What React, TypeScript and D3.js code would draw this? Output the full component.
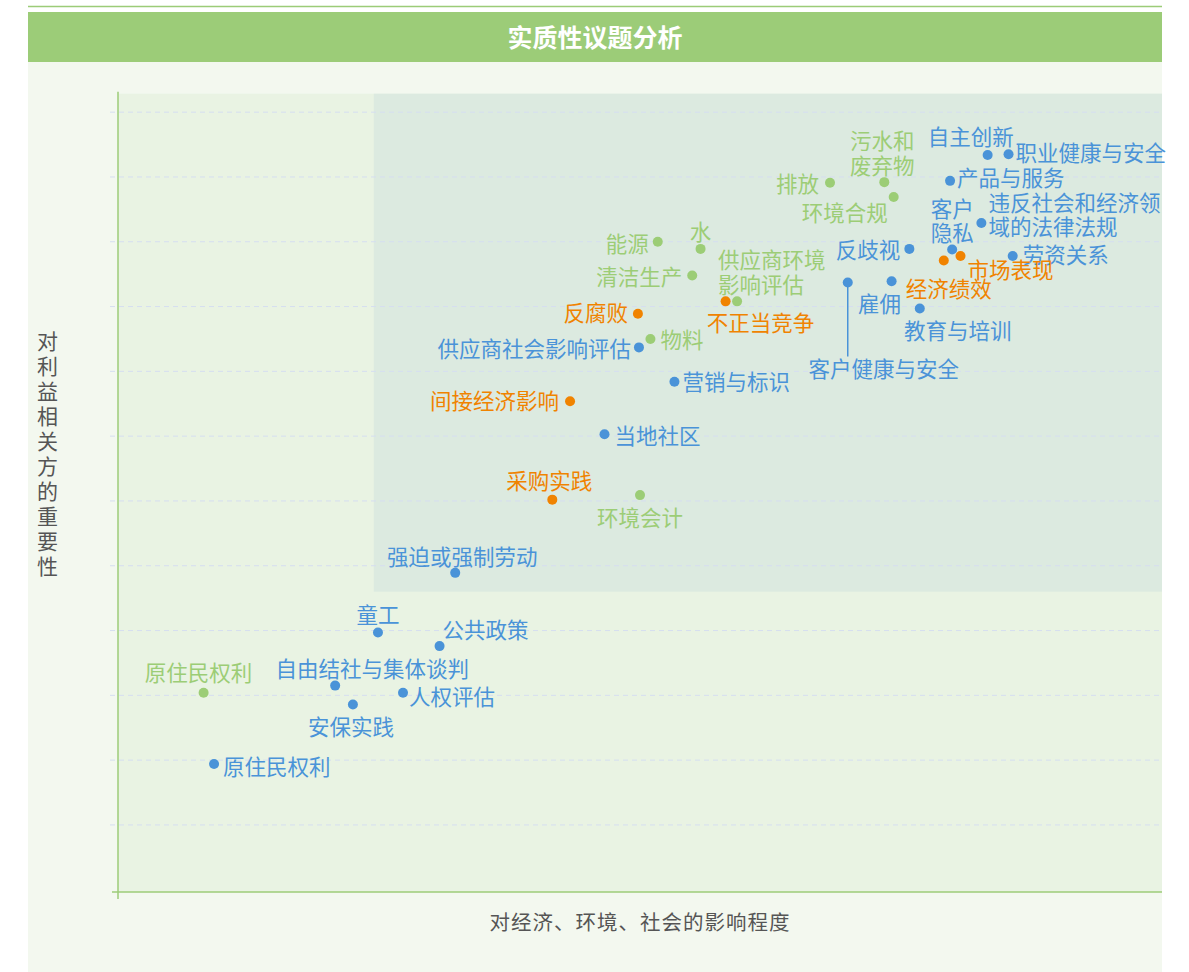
import React, { useEffect, useRef } from "react";
import * as d3 from "d3";

// 经济 (orange)
const economicIssues = [
  { name: "经济绩效", x: 7.91, y: 9.71 },
  { name: "市场表现", x: 8.07, y: 9.78 },
  { name: "不正当竞争", x: 5.82, y: 9.08 },
  { name: "反腐败", x: 4.98, y: 8.89 },
  { name: "间接经济影响", x: 4.33, y: 7.54 },
  { name: "采购实践", x: 4.16, y: 6.02 },
];

// 环境 (green)
const environmentIssues = [
  { name: "排放", x: 6.82, y: 10.91 },
  { name: "污水和\n废弃物", x: 7.34, y: 10.92 },
  { name: "环境合规", x: 7.43, y: 10.69 },
  { name: "能源", x: 5.17, y: 10.0 },
  { name: "水", x: 5.58, y: 9.89 },
  { name: "清洁生产", x: 5.5, y: 9.48 },
  { name: "供应商环境\n影响评估", x: 5.93, y: 9.08 },
  { name: "物料", x: 5.1, y: 8.5 },
  { name: "环境会计", x: 5.0, y: 6.09 },
  { name: "原住民权利", x: 0.82, y: 3.04 },
];

// 社会 (blue)
const socialIssues = [
  { name: "自主创新", x: 8.33, y: 11.34 },
  { name: "职业健康与安全", x: 8.53, y: 11.35 },
  { name: "产品与服务", x: 7.97, y: 10.94 },
  { name: "客户\n隐私", x: 7.99, y: 9.88 },
  { name: "违反社会和经济领\n域的法律法规", x: 8.27, y: 10.29 },
  { name: "反歧视", x: 7.58, y: 9.89 },
  { name: "劳资关系", x: 8.57, y: 9.78 },
  { name: "客户健康与安全", x: 6.99, y: 9.37 },
  { name: "雇佣", x: 7.41, y: 9.39 },
  { name: "教育与培训", x: 7.68, y: 8.97 },
  { name: "供应商社会影响评估", x: 4.99, y: 8.37 },
  { name: "营销与标识", x: 5.33, y: 7.84 },
  { name: "当地社区", x: 4.66, y: 7.03 },
  { name: "强迫或强制劳动", x: 3.23, y: 4.89 },
  { name: "童工", x: 2.49, y: 3.97 },
  { name: "公共政策", x: 3.08, y: 3.76 },
  { name: "自由结社与集体谈判", x: 2.08, y: 3.15 },
  { name: "人权评估", x: 2.73, y: 3.04 },
  { name: "安保实践", x: 2.25, y: 2.86 },
  { name: "原住民权利", x: 0.92, y: 1.94 },
];

const xDomain = [0, 10];
const yDomain = [-0.035, 12.285];
const gridValues = [1, 2, 3, 4, 5, 6, 7, 8, 9, 10, 11, 12];
// 重点议题区域
const focusArea = { x0: 2.45, x1: 10, y0: 4.6, y1: 12.285 };

const title = "实质性议题分析";
const xTitle = "对经济、环境、社会的影响程度";
const yTitle = "对利益相关方的重要性";

// label placement: [anchor, dx, dy]
const labelPos = {
  "eco:经济绩效": ["middle", 5, 26],
  "eco:市场表现": ["start", 7, 12],
  "eco:不正当竞争": ["middle", 35, 20],
  "eco:反腐败": ["end", -10, -3],
  "eco:间接经济影响": ["end", -11, -2],
  "eco:采购实践": ["middle", -3, -21],
  "env:排放": ["end", -11, -1],
  "env:污水和\n废弃物": ["middle", -2, -43],
  "env:环境合规": ["end", -6, 14],
  "env:能源": ["end", -9, 0],
  "env:水": ["middle", 0, -19],
  "env:清洁生产": ["end", -10, 0],
  "env:供应商环境\n影响评估": ["start", -19, -43],
  "env:物料": ["start", 10, -1],
  "env:环境会计": ["middle", 0, 21],
  "env:原住民权利": ["middle", -5, -22],
  "soc:自主创新": ["middle", -17, -20],
  "soc:职业健康与安全": ["start", 7, -3],
  "soc:产品与服务": ["start", 7, -5],
  "soc:客户\n隐私": ["middle", 0, -43],
  "soc:违反社会和经济领\n域的法律法规": ["start", 7, -22],
  "soc:反歧视": ["end", -9, -1],
  "soc:劳资关系": ["start", 10, -3],
  "soc:客户健康与安全": ["middle", 36, 84],
  "soc:雇佣": ["middle", -12, 21],
  "soc:教育与培训": ["middle", 38, 20],
  "soc:供应商社会影响评估": ["end", -8, 0],
  "soc:营销与标识": ["start", 8, -2],
  "soc:当地社区": ["start", 10, 0],
  "soc:强迫或强制劳动": ["middle", 7, -18],
  "soc:童工": ["middle", 0, -19],
  "soc:公共政策": ["start", 3, -18],
  "soc:自由结社与集体谈判": ["middle", 37, -19],
  "soc:人权评估": ["start", 6, 2],
  "soc:安保实践": ["middle", -2, 21],
  "soc:原住民权利": ["start", 9, 1],
};

const seriesList = [
  { key: "env", color: "#9ccd76", data: environmentIssues },
  { key: "soc", color: "#4a93d8", data: socialIssues },
  { key: "eco", color: "#f08300", data: economicIssues },
];

const FONT = "'Noto Sans CJK SC', 'Noto Sans', sans-serif";

export default function App() {
  const svgRef = useRef(null);
  const width = 1189;
  const height = 972;
  const panel = { left: 28, right: 1162, headerTop: 12, headerBottom: 62 };
  const plot = { left: 118, right: 1162, top: 93.7, bottom: 892 };

  useEffect(() => {
    const svg = d3.select(svgRef.current);
    svg.selectAll("*").remove();

    const x = d3.scaleLinear().domain(xDomain).range([plot.left, plot.right]);
    const y = d3.scaleLinear().domain(yDomain).range([plot.bottom, plot.top]);

    // --- frame ---
    svg.append("rect").attr("width", width).attr("height", height).attr("fill", "#fff");
    svg
      .append("line")
      .attr("x1", panel.left)
      .attr("x2", panel.right)
      .attr("y1", 6.5)
      .attr("y2", 6.5)
      .attr("stroke", "#9ccc78")
      .attr("stroke-width", 1.5);
    svg
      .append("rect")
      .attr("x", panel.left)
      .attr("y", panel.headerBottom)
      .attr("width", panel.right - panel.left)
      .attr("height", height - panel.headerBottom)
      .attr("fill", "#f3f8ef");
    svg
      .append("rect")
      .attr("x", panel.left)
      .attr("y", panel.headerTop)
      .attr("width", panel.right - panel.left)
      .attr("height", panel.headerBottom - panel.headerTop)
      .attr("fill", "#9ccc78");
    svg
      .append("text")
      .attr("x", (panel.left + panel.right) / 2)
      .attr("y", (panel.headerTop + panel.headerBottom) / 2 - 1)
      .attr("text-anchor", "middle")
      .attr("dominant-baseline", "central")
      .attr("fill", "#fff")
      .attr("font-family", FONT)
      .attr("font-size", 25)
      .attr("font-weight", "bold")
      .text(title);

    // --- plot backgrounds ---
    svg
      .append("rect")
      .attr("x", plot.left)
      .attr("y", plot.top)
      .attr("width", plot.right - plot.left)
      .attr("height", plot.bottom - plot.top)
      .attr("fill", "#e9f3e3");
    svg
      .append("rect")
      .attr("x", x(focusArea.x0))
      .attr("y", y(focusArea.y1))
      .attr("width", x(focusArea.x1) - x(focusArea.x0))
      .attr("height", y(focusArea.y0) - y(focusArea.y1))
      .attr("fill", "#dceae0");

    // --- grid ---
    svg
      .append("g")
      .selectAll("line")
      .data(gridValues)
      .join("line")
      .attr("x1", plot.left - 8)
      .attr("x2", plot.right)
      .attr("y1", d => y(d))
      .attr("y2", d => y(d))
      .attr("stroke", "#d5def0")
      .attr("stroke-width", 1)
      .attr("stroke-dasharray", "5,4");

    // --- axes ---
    svg
      .append("line")
      .attr("x1", plot.left)
      .attr("x2", plot.left)
      .attr("y1", plot.top - 2)
      .attr("y2", plot.bottom + 7)
      .attr("stroke", "#9ccc78")
      .attr("stroke-width", 1.5);
    svg
      .append("line")
      .attr("x1", plot.left - 6)
      .attr("x2", plot.right)
      .attr("y1", plot.bottom)
      .attr("y2", plot.bottom)
      .attr("stroke", "#9ccc78")
      .attr("stroke-width", 1.5);

    svg
      .append("text")
      .attr("x", 640)
      .attr("y", 921)
      .attr("text-anchor", "middle")
      .attr("dominant-baseline", "central")
      .attr("fill", "#555")
      .attr("font-family", FONT)
      .attr("font-size", 20.5)
      .attr("letter-spacing", 1)
      .text(xTitle);

    svg
      .append("g")
      .selectAll("text")
      .data(yTitle.split(""))
      .join("text")
      .attr("x", 47.5)
      .attr("y", (_, i) => 340 + i * 25)
      .attr("text-anchor", "middle")
      .attr("dominant-baseline", "central")
      .attr("fill", "#555")
      .attr("font-family", FONT)
      .attr("font-size", 21)
      .text(d => d);

    // --- points ---
    const all = seriesList.flatMap(s => s.data.map(d => ({ ...d, key: s.key, color: s.color })));

    // leader line for 客户健康与安全
    const lead = all.find(d => d.key === "soc" && d.name === "客户健康与安全");
    if (lead) {
      svg
        .append("line")
        .attr("x1", x(lead.x))
        .attr("x2", x(lead.x))
        .attr("y1", y(lead.y))
        .attr("y2", y(lead.y) + 74)
        .attr("stroke", lead.color)
        .attr("stroke-width", 1.5);
    }

    svg
      .append("g")
      .selectAll("circle")
      .data(all)
      .join("circle")
      .attr("cx", d => x(d.x))
      .attr("cy", d => y(d.y))
      .attr("r", 5)
      .attr("fill", d => d.color);

    const labels = svg
      .append("g")
      .attr("font-family", FONT)
      .attr("font-size", 21.5)
      .selectAll("text")
      .data(all)
      .join("text")
      .attr("fill", d => d.color)
      .attr("dominant-baseline", "central")
      .attr("text-anchor", d => (labelPos[`${d.key}:${d.name}`] || ["start"])[0]);

    labels.each(function (d) {
      const [, dx, dy] = labelPos[`${d.key}:${d.name}`] || ["start", 8, 0];
      const lines = d.name.split("\n");
      d3.select(this)
        .selectAll("tspan")
        .data(lines)
        .join("tspan")
        .attr("x", x(d.x) + dx)
        .attr("y", (_, i) => y(d.y) + dy + i * 24.5)
        .text(t => t);
    });
  }, []);

  return (
    <svg
      ref={svgRef}
      width={width}
      height={height}
      style={{ position: "absolute", left: 0, top: 0, display: "block" }}
    ></svg>
  );
}
